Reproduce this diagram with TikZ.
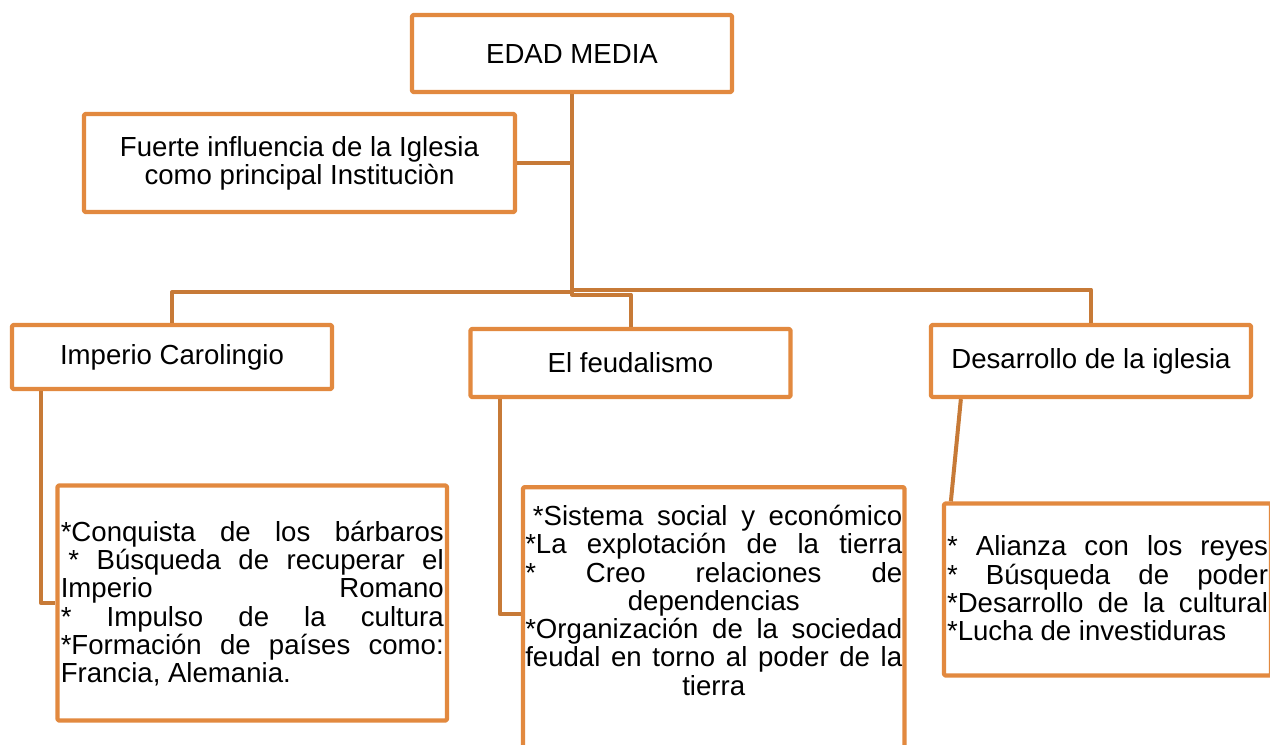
\documentclass[tikz,border=0pt]{standalone}
\usepackage{fontspec}
\setmainfont{Liberation Sans}
\definecolor{boxor}{HTML}{E2893F}
\definecolor{lineor}{HTML}{C77A37}
\newcommand\jl[1]{\hbox to\linewidth{\strut#1}}
\newcommand\tightlines{\lineskiplimit=-\maxdimen\lineskip=0pt}
\tikzset{
  box/.style={draw=boxor, line width=3.2pt, line join=round, rounded corners=1pt,
    inner sep=0pt, align=center, font=\fontsize{20.7pt}{21.2pt}\selectfont},
  conn/.style={draw=lineor, line width=3pt, line join=round}
}
\begin{document}
\begin{tikzpicture}[x=0.75pt,y=-0.75pt]
\useasboundingbox (0,0) rectangle (1270,744);
\clip (0,0) rectangle (1270,744);
\fill[white] (0,0) rectangle (1270,744);

% header boxes
\node[box, minimum width=240pt, minimum height=57.75pt] (edad) at (572,53.5) {EDAD MEDIA};
\node[box, minimum width=323.25pt, minimum height=73.5pt] (fuerte) at (299.5,163)
  {Fuerte influencia de la Iglesia\\como principal Instituciòn};
\node[box, minimum width=240pt, minimum height=48pt] (imperio) at (172,357) {Imperio Carolingio};
\node[box, minimum width=240pt, minimum height=51pt] (feudal) at (630.5,363) {El feudalismo};
\node[box, minimum width=240pt, minimum height=54pt] (desarrollo) at (1091,361) {Desarrollo de la iglesia};

% content boxes
\node[box, minimum width=292.1pt, minimum height=176.25pt] (box1) at (252.25,603)
{\parbox{287.25pt}{\tightlines\vspace*{4.5pt}%
\jl{*Conquista\hfill de\hfill los\hfill bárbaros}
\jl{\hspace{0.278em}*\hfill Búsqueda\hfill de\hfill recuperar\hfill el}
\jl{Imperio\hfill Romano}
\jl{*\hfill Impulso\hfill de\hfill la\hfill cultura}
\jl{*Formación\hfill de\hfill países\hfill como:}
\jl{Francia, Alemania.\hfill}}};

\node[box, anchor=north, minimum width=286.1pt] (box2) at (713.75,485)
{\parbox[c][213.75pt][t]{282.75pt}{\tightlines\vspace*{13.6pt}%
\jl{\hspace{0.278em}*Sistema\hfill social\hfill y\hfill económico}
\jl{*La\hfill explotación\hfill de\hfill la\hfill tierra}
\jl{*\hfill Creo\hfill relaciones\hfill de}
\jl{\hfill dependencias\hfill}
\jl{*Organización\hfill de\hfill la\hfill sociedad}
\jl{feudal\hfill en\hfill torno\hfill al\hfill poder\hfill de\hfill la}
\jl{\hfill tierra\hfill}}};

\node[box, minimum width=245.25pt, minimum height=129pt] (box3) at (1107.5,589.5)
{\parbox{240.75pt}{\tightlines\vspace*{4.5pt}%
\jl{*\hfill Alianza\hfill con\hfill los\hfill reyes}
\jl{*\hfill Búsqueda\hfill de\hfill poder}
\jl{*Desarrollo\hfill de\hfill la\hfill cultural}
\jl{*Lucha de investiduras\hfill}}};

% connectors
\coordinate (j1) at (572,292);
\coordinate (j2) at (572,289.5);
\coordinate (j3) at (572,294.5);
\draw[conn] (edad.south) -- (j1) -| (imperio.north);
\draw[conn] (edad.south) -- (j2) -| (desarrollo.north);
\draw[conn] (edad.south) -- (j3) -| (feudal.north);
\draw[conn] (fuerte.east) -- (fuerte.east -| edad.south);

\draw[conn] ([xshift=23.25pt]imperio.south west) |- (box1.west);
\draw[conn] ([xshift=23.6pt]feudal.south west) |- ([yshift=-96.75pt]box2.north west);
\draw[conn] ([xshift=24pt]desarrollo.south west) -- ([xshift=6.75pt]box3.north west);
\end{tikzpicture}
\end{document}
